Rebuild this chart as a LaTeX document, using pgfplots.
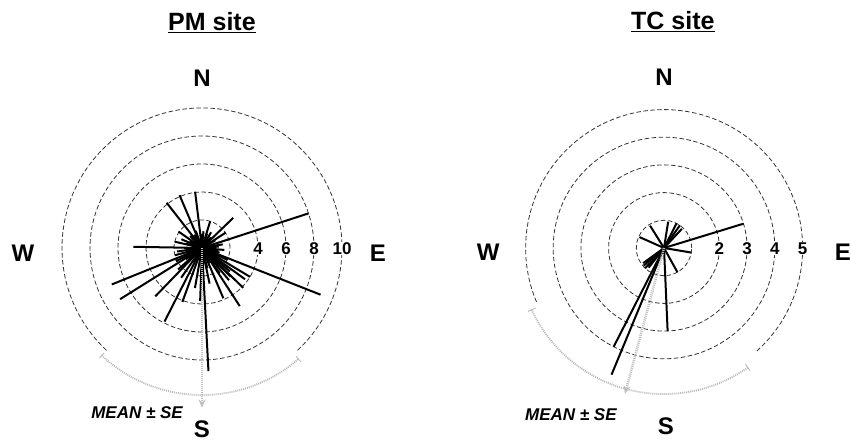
\documentclass[border=0pt]{standalone}
\usepackage{pgfplots}
\pgfplotsset{compat=1.18}
\usepackage{pgfplotstable}
\usepackage{fontspec}
\setmainfont{Liberation Sans}
\usetikzlibrary{arrows.meta}

% compass direction (deg, clockwise from N) and length
\pgfplotstableread{
a r
72 8.0
111.5 9.1
177 8.8
207 5.9
238 6.9
248 6.95
271 4.9
322 4.1
337 4.1
353 4.05
46 3.1
147 4.95
157 3.9
121 4.0
134 4.1
126 3.8
140 3.0
135 2.9
130 2.6
145 2.2
17 2.0
57 2.0
305 2.05
283 2.0
293 1.6
224 4.8
200 4.1
182 3.8
190 2.9
215 2.6
228 2.3
243 2.1
255 2.0
262 1.8
95 1.6
80 1.5
100 1.2
30 1.3
5 1.2
340 1.3
315 1.2
270 1.3
235 1.4
165 1.5
115 2.0
168 2.6
60 1.1
85 1.2
105 1.3
150 1.2
175 1.1
210 1.2
250 1.1
285 1.2
300 1.0
330 1.1
355 1.0
20 1.1
40 1.0
}\pmdata
\pgfplotstableread{
a r
180 11.4
}\pmmean
\pgfplotstableread{
a r
73 3.0
99.5 1.0
151 1.0
177.5 3.0
207 4.0
202.5 4.95
223 1.0
229 0.97
234 0.93
218 0.9
294 0.97
328 0.95
9 0.96
27 1.0
35 1.0
43 0.95
}\tcdata
\pgfplotstableread{
a r
195 5.45
}\tcmean

\pgfplotsset{
  rose/.style={hide axis, clip=false, anchor=center},
  vec/.style={black, line width=2pt, no marks,
    quiver={u=\thisrow{r}*sin(\thisrow{a}), v=\thisrow{r}*cos(\thisrow{a})}},
  meanvec/.style={gray!50, dash pattern=on 1pt off 1pt, line width=2.6pt, no marks,
    -{Stealth[length=8pt,width=7pt,fill=gray!45]},
    quiver={u=\thisrow{r}*sin(\thisrow{a}), v=\thisrow{r}*cos(\thisrow{a})}},
}
\tikzset{
  ring/.style={black!80, line width=0.8pt, dash pattern=on 4.5pt off 2.5pt},
  sear/.style={gray!55, dash pattern=on 1pt off 1pt, line width=1.8pt},
  compass/.style={font=\bfseries\fontsize{24}{24}\selectfont},
  ttl/.style={font=\bfseries\fontsize{25}{25}\selectfont},
  numlab/.style={font=\bfseries\fontsize{17}{17}\selectfont, fill=white, inner sep=0.5pt},
  meanlab/.style={font=\bfseries\itshape\fontsize{17}{17}\selectfont},
}

\begin{document}
\begin{tikzpicture}
% ---------------- PM site ----------------
\begin{axis}[rose, at={(202pt,195pt)}, x=14pt, y=14pt,
  xmin=-12, xmax=12, ymin=-12, ymax=12]
  \draw[ring] (axis cs:0,0) circle[radius=28pt];
  \draw[ring] (axis cs:0,0) circle[radius=56pt];
  \draw[ring] (axis cs:0,0) circle[radius=84pt];
  \draw[ring] (axis cs:0,0) circle[radius=112pt];
  \draw[ring] (axis cs:6.82,-7.31) arc[start angle=-47, end angle=227, radius=140pt];
  \addplot[vec] table[x expr=0, y expr=0] {\pmdata};
  \draw[sear] (axis cs:-7.16,-7.68) arc[start angle=-133, end angle=-49, radius=147pt];
  \draw[sear, solid, line width=0.9pt] (axis cs:6.72,-7.74) -- (axis cs:7.05,-8.12);
  \draw[sear, solid, line width=0.9pt] (axis cs:-6.99,-7.49) -- (axis cs:-7.33,-7.86);
  \addplot[meanvec] table[x expr=0, y expr=0] {\pmmean};
  \node[numlab] at (axis cs:4,-0.05) {4};
  \node[numlab] at (axis cs:6,-0.05) {6};
  \node[numlab] at (axis cs:8,-0.05) {8};
  \node[numlab] at (axis cs:10,-0.05) {10};
  \node[compass] at (axis cs:0,12.14) {N};
  \node[compass] at (axis cs:12.57,-0.36) {E};
  \node[compass] at (axis cs:-12.79,-0.36) {W};
  \node[compass] at (axis cs:0,-12.95) {S};
  \node[meanlab] at (axis cs:-4.64,-11.79) {MEAN ± SE};
  \node[ttl] at (axis cs:0.71,16.07) {\underline{PM site}};
\end{axis}
% ---------------- TC site ----------------
\begin{axis}[rose, at={(664pt,195pt)}, x=27.7pt, y=27.7pt,
  xmin=-6, xmax=6, ymin=-6, ymax=6]
  \draw[ring] (axis cs:0,0) circle[radius=27.7pt];
  \draw[ring] (axis cs:0,0) circle[radius=55.4pt];
  \draw[ring] (axis cs:0,0) circle[radius=83.1pt];
  \draw[ring] (axis cs:0,0) circle[radius=110.8pt];
  \draw[ring] (axis cs:3.35,-3.72) arc[start angle=-48, end angle=203, radius=138.5pt];
  \addplot[vec] table[x expr=0, y expr=0] {\tcdata};
  \draw[sear] (axis cs:-4.78,-2.23) arc[start angle=-155, end angle=-55, radius=146pt];
  \draw[sear, solid, line width=0.9pt] (axis cs:2.94,-4.19) -- (axis cs:3.11,-4.44);
  \draw[sear, solid, line width=0.9pt] (axis cs:-4.64,-2.17) -- (axis cs:-4.91,-2.29);
  \addplot[meanvec] table[x expr=0, y expr=0] {\tcmean};
  \node[numlab] at (axis cs:2,-0.03) {2};
  \node[numlab] at (axis cs:3,-0.03) {3};
  \node[numlab] at (axis cs:4,-0.03) {4};
  \node[numlab] at (axis cs:5,-0.03) {5};
  \node[compass] at (axis cs:0,6.17) {N};
  \node[compass] at (axis cs:6.46,-0.14) {E};
  \node[compass] at (axis cs:-6.35,-0.14) {W};
  \node[compass] at (axis cs:0.07,-6.45) {S};
  \node[meanlab] at (axis cs:-3.36,-6.03) {MEAN ± SE};
  \node[ttl] at (axis cs:0.32,8.16) {\underline{TC site}};
\end{axis}
\pgfresetboundingbox
\useasboundingbox (0,0) rectangle (851pt,443pt);
\end{tikzpicture}
\end{document}
